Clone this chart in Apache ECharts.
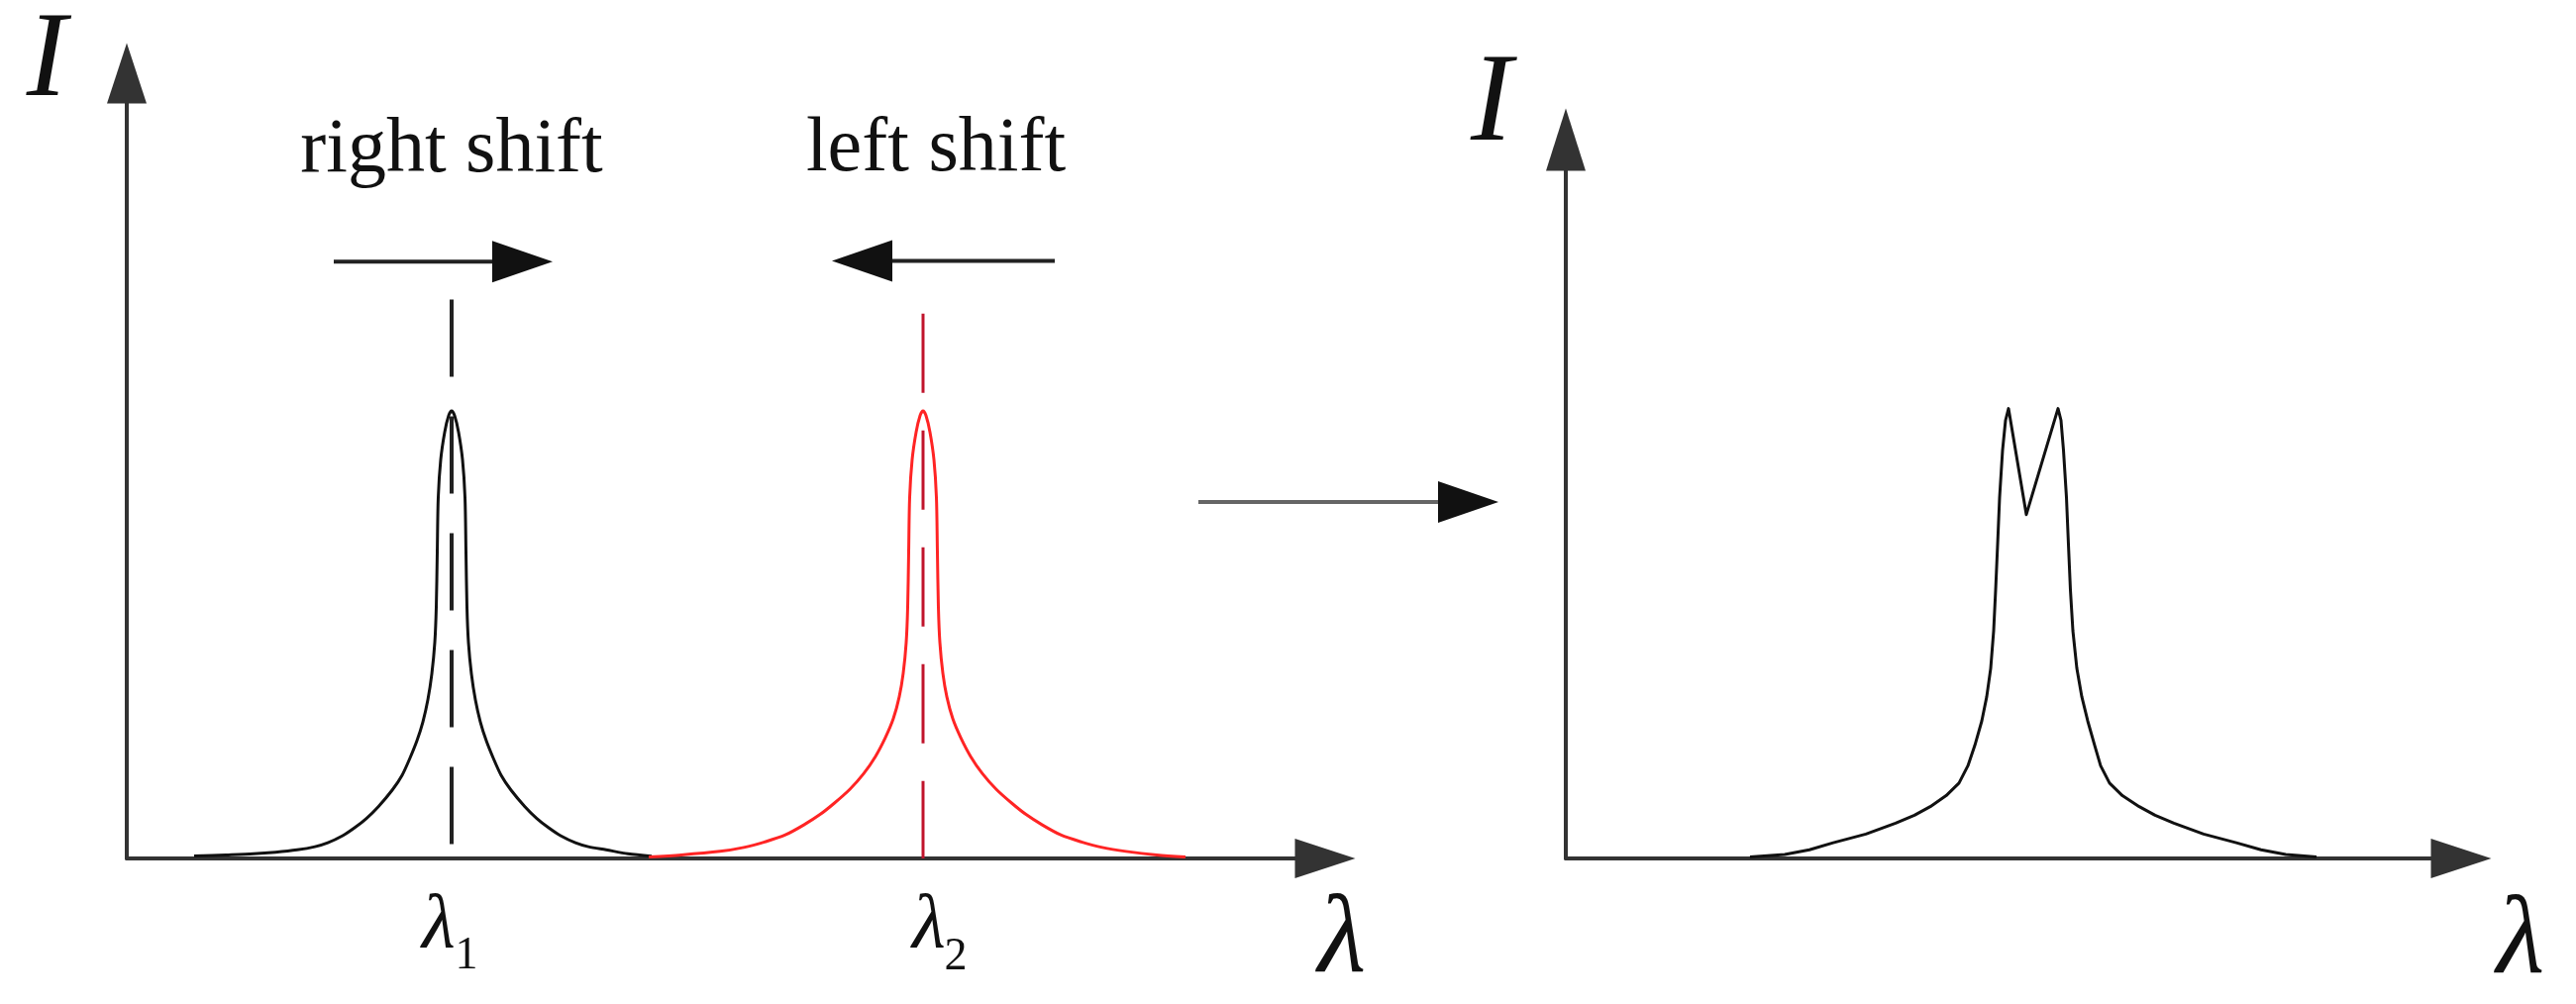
<!DOCTYPE html>
<html lang="en">
<head>
  <meta charset="UTF-8">
  <script src="https://cdn.jsdelivr.net/npm/echarts@6/dist/echarts.min.js"></script>
  <title>shift</title>
  <style>
    * {margin: 0; padding: 0;}
    html, body { width: 100%; height: 100%; overflow: hidden; background: #fff; }
    #chart { width: 2601px; height: 1014px; }
  </style>
</head>
<body>
  <div id="chart"></div>
</body>
<script>
// peak positions on the left axis
var lambda1 = 32.8
var lambda2 = 80.4
var dashTop1 = 71.2
var dashTop2 = 69.4

// black spectrum around lambda1
var blackPeak = [
  [6.8, 0.3], [10.0, 0.45], [12.8, 0.6], [15.0, 0.8], [17.2, 1.1], [19.0, 1.5], [20.3, 2.0],
  [21.8, 2.9], [23.0, 3.9], [24.2, 5.1], [25.4, 6.6], [26.8, 8.7], [27.8, 10.6], [28.6, 12.8],
  [29.3, 15.0], [29.9, 17.4], [30.4, 20.2], [30.8, 23.5], [31.1, 27.5], [31.25, 32.0],
  [31.35, 39.0], [31.45, 46.0], [31.7, 50.8], [32.1, 54.3], [32.5, 56.4], [32.8, 57.0],
  [33.1, 56.4], [33.5, 54.3], [33.9, 50.8], [34.15, 46.0], [34.25, 39.0], [34.35, 32.0],
  [34.5, 27.5], [34.8, 23.5], [35.2, 20.2], [35.7, 17.4], [36.3, 15.0], [37.0, 12.8],
  [37.8, 10.6], [38.8, 8.7], [40.2, 6.6], [41.4, 5.1], [42.6, 3.9], [43.8, 2.9], [45.3, 2.0],
  [46.6, 1.5], [48.4, 1.1], [50.6, 0.6], [53.0, 0.3]
]

// red spectrum around lambda2
var redPeak = [
  [52.7, 0.2], [56.0, 0.45], [59.9, 0.9], [62.3, 1.4], [64.4, 2.1], [66.5, 3.0], [68.4, 4.3],
  [70.0, 5.6], [71.4, 7.0], [73.0, 8.8], [74.4, 10.8], [75.6, 13.0], [76.6, 15.4], [77.4, 17.8],
  [78.0, 20.6], [78.4, 23.6], [78.7, 27.5], [78.85, 32.0], [78.95, 39.0], [79.05, 46.0],
  [79.3, 50.8], [79.7, 54.3], [80.1, 56.4], [80.4, 57.0],
  [80.7, 56.4], [81.1, 54.3], [81.5, 50.8], [81.75, 46.0], [81.85, 39.0], [81.95, 32.0],
  [82.1, 27.5], [82.4, 23.6], [82.8, 20.6], [83.4, 17.8], [84.2, 15.4], [85.2, 13.0],
  [86.4, 10.8], [87.8, 8.8], [89.4, 7.0], [90.8, 5.6], [92.4, 4.3], [94.3, 3.0], [96.4, 2.1],
  [98.5, 1.4], [100.9, 0.9], [104.0, 0.45], [106.9, 0.2]
]

// merged spectrum (right panel)
var mergedPeak = [
  [18.6, 0.2], [22.1, 0.5], [24.6, 1.1], [27.0, 2.0], [30.3, 3.1], [33.3, 4.5], [35.2, 5.5],
  [36.8, 6.6], [38.4, 8.0], [39.7, 9.6], [40.6, 11.8], [41.3, 14.4], [42.0, 17.5], [42.5, 20.6],
  [42.9, 24.2], [43.2, 29.0], [43.4, 34.2], [43.6, 40.0], [43.8, 46.0], [44.1, 52.0], [44.4, 55.8],
  [44.7, 57.3],
  [46.5, 43.8],
  [49.7, 57.3], [50.0, 55.8], [50.25, 52.0], [50.55, 46.0], [50.75, 40.0], [50.95, 34.2],
  [51.2, 29.0], [51.6, 24.2], [52.1, 20.6], [52.7, 17.5], [53.4, 14.4], [54.0, 11.8], [54.9, 9.6],
  [56.2, 8.0], [57.9, 6.6], [59.5, 5.5], [61.4, 4.5], [64.4, 3.1], [67.7, 2.0], [70.2, 1.1],
  [72.7, 0.5], [75.8, 0.2]
]

// shift arrows: [tail x, tip x, y]
var rightShift = [20.9, 43.0, 76.0]
var leftShift = [93.7, 71.2, 76.1]

var serif = '"Liberation Serif", "DejaVu Serif", serif'
var axisColor = '#333'

function axisLine (size) {
  return {
    show: true,
    onZero: false,
    symbol: ['none', 'triangle'],
    symbolSize: size,
    lineStyle: { color: axisColor, width: 4 }
  }
}
function plainAxis (extra) {
  return Object.assign({
    type: 'value',
    min: 0,
    axisTick: { show: false },
    axisLabel: { show: false },
    splitLine: { show: false }
  }, extra)
}
function text (str, x, y, size, italic) {
  return {
    type: 'text',
    x: x,
    y: y,
    silent: true,
    style: {
      text: str,
      font: (italic ? 'italic ' : '') + size + 'px ' + serif,
      fill: '#111',
      align: 'center',
      verticalAlign: 'middle'
    }
  }
}
// horizontal arrow in pixels, head 62 long and 42 high
function arrow (x1, x2, y, lineColor) {
  var dir = x2 > x1 ? 1 : -1
  var base = x2 - dir * 61
  return [
    {
      type: 'line', silent: true,
      shape: { x1: x1, y1: y, x2: base + dir * 4, y2: y },
      style: { stroke: lineColor, lineWidth: 4 }
    },
    {
      type: 'polygon', silent: true,
      shape: { points: [[base, y - 21], [x2, y], [base, y + 21]] },
      style: { fill: '#111' }
    }
  ]
}
function peakSeries (axis, data, color, smooth) {
  return {
    type: 'line', xAxisIndex: axis, yAxisIndex: axis, symbol: 'none', silent: true,
    smooth: smooth,
    data: data,
    lineStyle: { color: color, width: 3, join: 'round' }
  }
}

var labels = [
  text('I', 47, 64, 122, true),
  text('I', 1506, 108, 126, true),
  text('right shift', 456, 153, 78, false),
  text('left shift', 945, 152, 78, false),
  text('λ', 443, 936, 78, true),
  text('1', 471, 966, 46, false),
  text('λ', 938, 936, 78, true),
  text('2', 965, 967, 46, false),
  text('λ', 1355, 952, 112, true),
  text('λ', 2545, 953, 112, true)
].concat(arrow(1210, 1513, 507, '#666'))

var option = {
  animation: false,
  backgroundColor: '#fff',
  grid: [
    { left: 128, top: 74, width: 1210, height: 793 },
    { left: 1581, top: 141, width: 904, height: 726 }
  ],
  xAxis: [
    plainAxis({ gridIndex: 0, max: 121, axisLine: axisLine([40, 61]) }),
    plainAxis({ gridIndex: 1, max: 90.4, axisLine: axisLine([40, 61]) })
  ],
  yAxis: [
    plainAxis({ gridIndex: 0, max: 100, axisLine: axisLine([40, 61]) }),
    plainAxis({ gridIndex: 1, max: 91.55, axisLine: axisLine([40, 63]) })
  ],
  series: [
    peakSeries(0, blackPeak, '#111', 0.3),
    peakSeries(0, redPeak, '#ff2424', 0.3),
    {
      type: 'line', xAxisIndex: 0, yAxisIndex: 0, symbol: 'none', silent: true,
      data: [[lambda1, dashTop1], [lambda1, 0]],
      lineStyle: { color: '#222', width: 4, type: [78, 40] }
    },
    {
      type: 'line', xAxisIndex: 0, yAxisIndex: 0, symbol: 'none', silent: true,
      data: [[lambda2, dashTop2], [lambda2, 0]],
      lineStyle: { color: '#c0142c', width: 3, type: [80, 38] }
    },
    peakSeries(1, mergedPeak, '#111', false)
  ],
  graphic: labels
}

var chart = echarts.init(document.getElementById('chart'), null, { renderer: 'canvas' })
chart.setOption(option)

// the shift arrows sit in the left panel's data space
function shiftArrow (a) {
  var p1 = chart.convertToPixel({ gridIndex: 0 }, [a[0], a[2]])
  var p2 = chart.convertToPixel({ gridIndex: 0 }, [a[1], a[2]])
  return arrow(p1[0], p2[0], p1[1], '#222')
}
chart.setOption({
  graphic: labels.concat(shiftArrow(rightShift), shiftArrow(leftShift))
})
</script>
</html>
